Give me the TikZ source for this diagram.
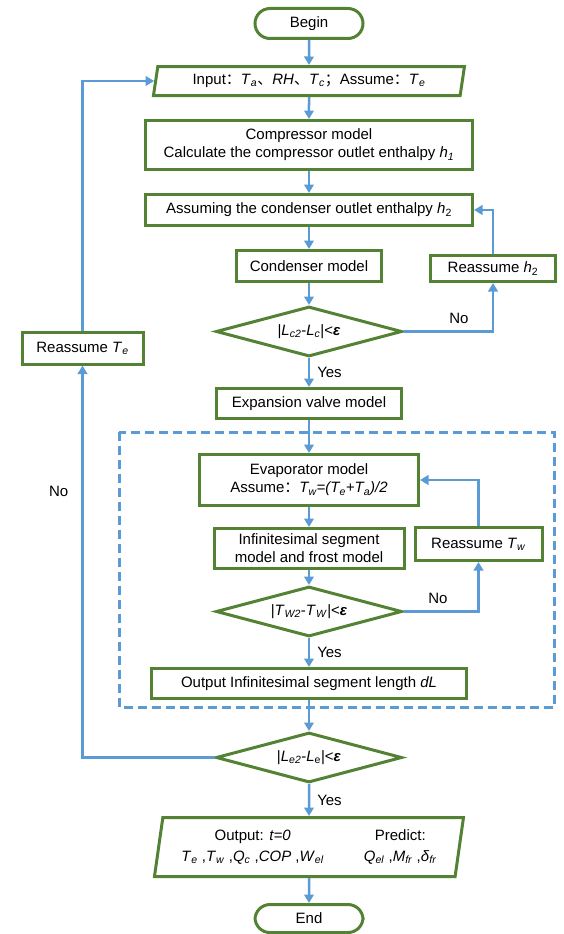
\documentclass[tikz,border=0pt]{standalone}
\usepackage{fontspec}
\setmainfont{Liberation Sans}
\newfontfamily\cjk{Noto Sans CJK SC}
\usepackage{xcolor}
\usepackage{tikz}
\usetikzlibrary{arrows.meta,
positioning,
shapes.geometric,
calc}

\definecolor{boxgreen}{RGB}{84,130,53}
\definecolor{flowblue}{RGB}{91,155,213}

\newcommand{\varsub}[2]{\textit{#1}\textsubscript{\textit{#2}}}
\newcommand{\varsubup}[2]{\textit{#1}\textsubscript{#2}}
\newcommand{\zhcolon}{{\cjk ：}}
\newcommand{\zhcomma}{{\cjk 、}}
\newcommand{\zhsemi}{{\cjk ；}}
\newcommand{\eps}{\textbf{\textit{ε}}}

\begin{document}
\begin{tikzpicture}[
		x=1pt, y=1pt,
		>={Triangle[width=9.5pt,length=8.5pt]},
		font=\fontsize{15}{18}\selectfont,
		process/.style={
			draw=boxgreen,
			line width=3pt,
			align=center,
			inner sep=2pt
		},
		terminal/.style={
			process,
			rounded corners=15pt,
			minimum width=108pt,
			minimum height=30pt
		},
		io/.style={
			process,
			trapezium,
			trapezium left angle=76,
			trapezium right angle=104,
			trapezium stretches body
		},
		decision/.style={
			process,
			diamond,
			aspect=3.7,
			inner sep=0pt,
			minimum width=186pt,
			minimum height=50pt
		},
		flow/.style={->, draw=flowblue, line width=2.5pt},
		lbl/.style={inner sep=1pt},
		groupbox/.style={draw=flowblue, line width=3pt, dash pattern=on 9pt off 5pt}
		]
		
		\useasboundingbox (0,0) rectangle (563,-934);
		
		% Main column
		\node[terminal] (begin) at (309,-23.5) {Begin};
		
		\node[io, below=25pt of begin, minimum width=311pt, minimum height=29pt] (input)
		{Input\zhcolon\varsub{T}{a}\zhcomma\textit{RH}\zhcomma\varsub{T}{c}\zhsemi Assume\zhcolon\varsub{T}{e}};
		
		\node[process, below=22pt of input, minimum width=327pt, minimum height=49pt] (comp)
		{Compressor model\\Calculate the compressor outlet enthalpy \varsub{h}{1}};
		
		\node[process, below=22pt of comp, minimum width=327pt, minimum height=31pt] (assum)
		{Assuming the condenser outlet enthalpy \varsubup{h}{2}};
		
		\node[process, below=22pt of assum, minimum width=145pt, minimum height=31pt] (cond)
		{Condenser model};
		
		\node[decision, below=22pt of cond] (dia1)
		{|\varsub{L}{c2}-\varsub{L}{c}|<\eps};
		
		\node[process, below=29pt of dia1, minimum width=185pt, minimum height=30pt] (expa)
		{Expansion valve model};
		
		% Evaporator loop
		\node[process, below=33pt of expa, minimum width=219pt, minimum height=51pt] (evap)
		{Evaporator model\\Assume\zhcolon\textit{T\textsubscript{w}=(T\textsubscript{e}+T\textsubscript{a})/2}};
		
		\node[process, below=20pt of evap, minimum width=190pt, minimum height=40pt] (infi)
		{Infinitesimal segment\\model and frost model};
		
		\node[decision, below=15pt of infi] (dia2)
		{|\varsub{T}{W2}-\varsub{T}{W}|<\eps};
		
		\node[process, below=29pt of dia2, minimum width=315pt, minimum height=30pt] (outdL)
		{Output Infinitesimal segment length \textit{dL}};
		
		% Bottom
		\node[decision, below=31pt of outdL] (dia3)
		{|\varsub{L}{e2}-\varsubup{L}{e}|<\eps};
		
		\node[io, below=32pt of dia3, trapezium left angle=79, trapezium right angle=101,
		minimum width=309pt, minimum height=59pt] (output)
		{\begin{tabular}{@{}c@{\hspace{40pt}}c@{}}
				Output: \textit{t=0} & Predict:\\[3pt]
				\varsub{T}{e} ,\varsub{T}{w} ,\varsub{Q}{c} ,\textit{COP} ,\varsub{W}{el} &
				\varsub{Q}{el} ,\varsub{M}{fr} ,\varsub{δ}{fr}
		\end{tabular}};
		
		\node[terminal, below=25pt of output, minimum height=28pt] (end) {End};
		
		% Side boxes
		\node[process, right=46pt of cond, yshift=-2.5pt, minimum width=125pt, minimum height=26pt] (reh2)
		{Reassume \varsubup{h}{2}};
		
		\node[process, left=70pt of dia1, yshift=-16.5pt, minimum width=121pt, minimum height=32pt] (reTe)
		{Reassume \varsub{T}{e}};
		
		\node[process, right=8pt of infi, yshift=4.5pt, minimum width=127pt, minimum height=33pt] (reTw)
		{Reassume \varsub{T}{w}};
		
		% Dashed frame
		\draw[groupbox] ($(outdL.west |- evap.north)+(-31,21)$) rectangle ($(reTw.east |- outdL.south)+(11,-7)$);
		
		% Connections
		\draw[flow] (begin) -- (input);
		\draw[flow] (input) -- (comp);
		\draw[flow] (comp) -- (assum);
		\draw[flow] (assum) -- (cond);
		\draw[flow] (cond) -- (dia1);
		\draw[flow] (dia1) -- node[lbl, right=6pt] {Yes} (expa);
		\draw[flow] (expa) -- (evap);
		\draw[flow] (evap) -- (infi);
		\draw[flow] (infi) -- (dia2);
		\draw[flow] (dia2) -- node[lbl, right=6pt] {Yes} (outdL);
		\draw[flow] (outdL) -- (dia3);
		\draw[flow] (dia3) -- node[lbl, right=6pt] {Yes} (output);
		\draw[flow] (output) -- (end);
		
		\draw[flow] (dia1.east) -| node[lbl, pos=0.31, above=6pt] {No} (reh2.south);
		\draw[flow] (reh2.north) |- (assum.east);
		
		\draw[flow] (dia2.east) -| node[lbl, pos=0.23, above=6pt] {No} (reTw.south);
		\draw[flow] (reTw.north) |- (evap.east);
		
		\draw[flow] (dia3.west) -| node[lbl, pos=0.84, left=12pt] {No} (reTe.south);
		\draw[flow] (reTe.north) |- (input.west);
		
	\end{tikzpicture}
\end{document}
